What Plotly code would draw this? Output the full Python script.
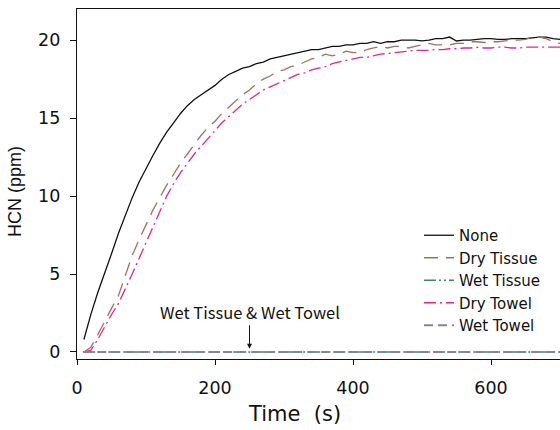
import plotly.graph_objects as go

time_s = list(range(10, 720, 10))

none_ppm = [0.8, 2.4, 3.8, 5.0, 6.3, 7.6, 8.8, 9.9, 10.9, 11.8,
            12.6, 13.4, 14.1, 14.7, 15.3, 15.8, 16.2, 16.5, 16.8, 17.1,
            17.5, 17.8, 18.0, 18.2, 18.3, 18.5, 18.6, 18.8, 18.9, 19.0,
            19.1, 19.2, 19.3, 19.4, 19.4, 19.5, 19.6, 19.6, 19.7, 19.7,
            19.8, 19.8, 19.9, 19.8, 19.9, 19.9, 20.0, 20.0, 20.0, 19.95,
            20.0, 20.1, 20.1, 20.2, 19.95, 20.0, 20.0, 20.05, 20.1, 20.1,
            20.05, 20.05, 20.1, 20.1, 20.1, 20.15, 20.2, 20.2, 20.1, 20.05,
            20.1]

dry_tissue_ppm = [0.0, 0.3, 1.1, 2.0, 2.8, 3.6, 4.9, 6.2, 7.2, 8.2,
                  9.1, 9.9, 10.7, 11.4, 12.1, 12.7, 13.3, 13.9, 14.4, 14.8,
                  15.3, 15.7, 16.1, 16.5, 16.8, 17.2, 17.5, 17.7, 18.0, 18.1,
                  18.3, 18.4, 18.6, 18.8, 18.9, 19.1, 19.0, 19.1, 19.3, 19.2,
                  19.2, 19.4, 19.5, 19.6, 19.5, 19.6, 19.6, 19.5, 19.6, 19.7,
                  19.8, 19.7, 19.7, 19.7, 19.8, 19.8, 19.9, 19.9, 19.85, 19.9,
                  19.9, 19.95, 20.0, 20.0, 20.05, 20.2, 20.2, 20.1, 19.9, 19.8,
                  19.8]

dry_towel_ppm = [0.0, 0.1, 0.8, 1.6, 2.4, 3.1, 4.0, 5.0, 6.0, 7.0,
                 8.0, 9.1, 10.0, 10.8, 11.5, 12.1, 12.7, 13.2, 13.7, 14.2,
                 14.7, 15.1, 15.5, 15.9, 16.2, 16.5, 16.8, 17.0, 17.2, 17.4,
                 17.6, 17.8, 17.9, 18.1, 18.2, 18.3, 18.5, 18.6, 18.7, 18.8,
                 18.9, 18.9, 19.0, 19.1, 19.15, 19.2, 19.25, 19.3, 19.35, 19.35,
                 19.35, 19.4, 19.4, 19.45, 19.45, 19.5, 19.5, 19.55, 19.5, 19.5,
                 19.55, 19.55, 19.5, 19.5, 19.55, 19.55, 19.55, 19.55, 19.55, 19.55,
                 19.55]

wet_time_s = [9, 710]
wet_tissue_ppm = [0.0, 0.0]
wet_towel_ppm = [0.0, 0.0]

x_ticks = [0, 200, 400, 600]
y_ticks = [0, 5, 10, 15, 20]

fig = go.Figure()
fig.add_trace(go.Scatter(x=time_s, y=none_ppm, mode="lines", name="None",
                         line=dict(color="#111111", width=1.3)))
fig.add_trace(go.Scatter(x=time_s, y=dry_tissue_ppm, mode="lines", name="Dry Tissue",
                         line=dict(color="#a4705e", width=1.3, dash="14px,8px")))
fig.add_trace(go.Scatter(x=wet_time_s, y=wet_tissue_ppm, mode="lines", name="Wet Tissue",
                         line=dict(color="#3f8a55", width=1.3, dash="12px,3px,2px,3px,2px,3px")))
fig.add_trace(go.Scatter(x=time_s, y=dry_towel_ppm, mode="lines", name="Dry Towel",
                         line=dict(color="#ee2288", width=1.3, dash="12px,4px,2px,4px")))
fig.add_trace(go.Scatter(x=wet_time_s, y=wet_towel_ppm, mode="lines", name="Wet Towel",
                         line=dict(color="#86839c", width=1.9, dash="9px,5px")))

fig.add_annotation(x=250, y=0.2, xref="x", yref="y", text="Wet Tissue &amp; Wet Towel",
                   showarrow=True, ax=0, ay=-37, arrowhead=2, arrowsize=1, arrowwidth=1,
                   arrowcolor="#111111",
                   font=dict(family="Noto Sans CJK KR", size=16.5, color="#111111"))

fig.add_annotation(x=(294 - 77) / 483, y=(359 - 414) / 350, xref="paper", yref="paper",
                   text="Time\u00a0\u00a0(s)", showarrow=False, yanchor="middle",
                   font=dict(family="DejaVu Sans", size=21, color="#111111"))
fig.add_annotation(x=-62 / 483, y=(359 - 191) / 350, xref="paper", yref="paper",
                   text="HCN (ppm)", showarrow=False, textangle=-90,
                   xanchor="center", yanchor="middle",
                   font=dict(family="Liberation Sans, Arial", size=18, color="#111111"))

fig.update_layout(
    width=560, height=430,
    margin=dict(l=77, r=0, t=9, b=71),
    paper_bgcolor="white", plot_bgcolor="white",
    font=dict(family="DejaVu Sans", size=17.5, color="#111111"),
    showlegend=True,
    legend=dict(x=(419 - 77) / 483, y=(359 - 219) / 350, xanchor="left", yanchor="top",
                bgcolor="rgba(0,0,0,0)",
                font=dict(family="DejaVu Sans", size=15, color="#111111"),
                tracegroupgap=0),
    xaxis=dict(range=[0, 700], tickvals=x_ticks, showgrid=False, zeroline=False,
               showline=True, linecolor="#111111", linewidth=1.3, mirror=True,
               ticks="outside", ticklen=5, tickcolor="#111111", tickwidth=1.3,
               ticklabelstandoff=8),
    yaxis=dict(range=[-0.45, 22], tickvals=y_ticks, showgrid=False, zeroline=False,
               showline=True, linecolor="#111111", linewidth=1.3,
               ticks="outside", ticklen=6, tickcolor="#111111", tickwidth=1.3,
               ticklabelstandoff=6),
)

fig.write_html("out.html", config={"displayModeBar": False},
               post_script="document.body.style.margin='0';")
